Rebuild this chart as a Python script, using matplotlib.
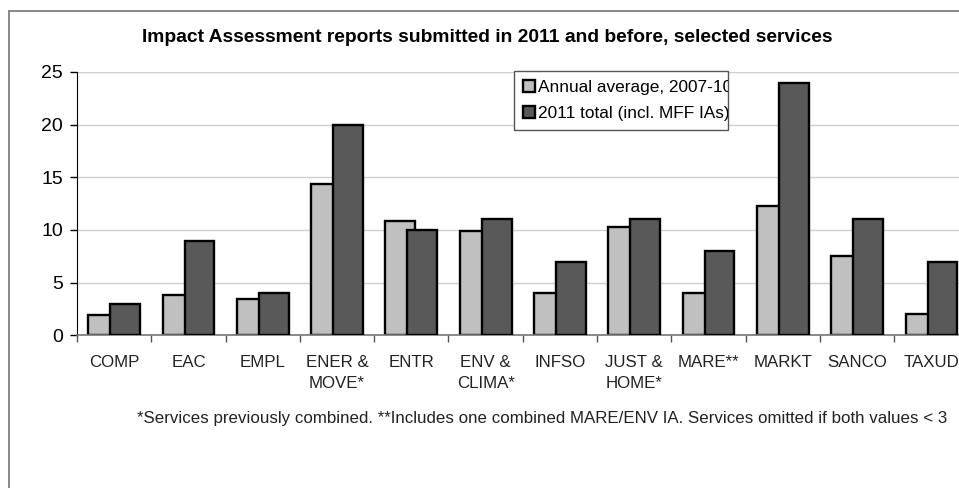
import numpy as np
import matplotlib
matplotlib.use("Agg")
import matplotlib.pyplot as plt
from matplotlib.patches import Rectangle

plt.rcParams['font.family'] = ['Liberation Sans', 'DejaVu Sans']

# data
services = ['COMP', 'EAC', 'EMPL', 'ENER &\nMOVE*', 'ENTR', 'ENV &\nCLIMA*',
            'INFSO', 'JUST &\nHOME*', 'MARE**', 'MARKT', 'SANCO', 'TAXUD']
avg_2007_10 = [1.9, 3.85, 3.45, 14.35, 10.9, 9.9, 4.0, 10.3, 4.0, 12.3, 7.5, 2.05]
total_2011 = [3, 9, 4, 20, 10, 11, 7, 11, 8, 24, 11, 7]

W, H = 959, 488
fig = plt.figure(figsize=(W / 100, H / 100), dpi=100)

# outer chart frame (right side is cut off in the source)
fig.patches.append(Rectangle((9 / W, -0.1), 1.2, 1 - 11 / H + 0.1,
                             transform=fig.transFigure, fill=False,
                             edgecolor='#7f7f7f', linewidth=1.3))

ax = fig.add_axes([77 / W, 1 - 335.3 / H, 12 * 74.3 / W, (335.3 - 72) / H])

x = np.arange(len(services)) + 0.5
off, bw = 0.148, 0.40
ax.bar(x - off, avg_2007_10, bw, color='#c0c0c0', edgecolor='black',
       linewidth=1.7, zorder=2, label='Annual average, 2007-10')
ax.bar(x + off, total_2011, bw, color='#595959', edgecolor='black',
       linewidth=1.7, zorder=3, label='2011 total (incl. MFF IAs)')

ax.set_xlim(0, len(services))
ax.set_ylim(0, 25)
ax.set_yticks([0, 5, 10, 15, 20, 25])
ax.yaxis.grid(True, color='#d0d0d0', linewidth=1.0, zorder=0)
ax.set_axisbelow(True)

ax.set_xticks(np.arange(len(services) + 1))
ax.set_xticklabels([])
ax.set_xticks(x, minor=True)
ax.set_xticklabels(services, minor=True, fontsize=12.2, color='#222222',
                   linespacing=1.55)
ax.tick_params(axis='x', which='minor', length=0, pad=14)
ax.tick_params(axis='x', which='major', length=5, width=1, color='#555555')
ax.tick_params(axis='y', length=5, width=1, pad=5, labelsize=14)

for s in ['top', 'right']:
    ax.spines[s].set_visible(False)
ax.spines['left'].set_color('black')
ax.spines['bottom'].set_color('#777777')
ax.spines['bottom'].set_linewidth(1.2)

fig.text(487 / W, 1 - 37 / H,
         'Impact Assessment reports submitted in 2011 and before, selected services',
         ha='center', va='center', fontsize=13.9, fontweight='bold')

fig.text(137 / W, 1 - 418 / H,
         '*Services previously combined. **Includes one combined MARE/ENV IA. '
         'Services omitted if both values < 3',
         ha='left', va='center', fontsize=12.2, color='#222222')

leg = ax.legend(loc='upper left',
                bbox_to_anchor=(514 / W, 1 - 129 / H, 214 / W, 58 / H),
                bbox_transform=fig.transFigure, mode='expand', fontsize=12.4,
                handlelength=0.7, handleheight=0.7, handletextpad=0.2,
                borderpad=0.5, labelspacing=0.68, borderaxespad=0,
                fancybox=False, framealpha=1, edgecolor='#555555')
leg.get_frame().set_linewidth(1.0)

# text in the source legend is cut off by its frame
fig.canvas.draw()
box = leg.get_frame().get_window_extent()
for t in leg.get_texts():
    t.set_clip_box(box)
    t.set_clip_on(True)

fig.savefig('out.png', dpi=100)
